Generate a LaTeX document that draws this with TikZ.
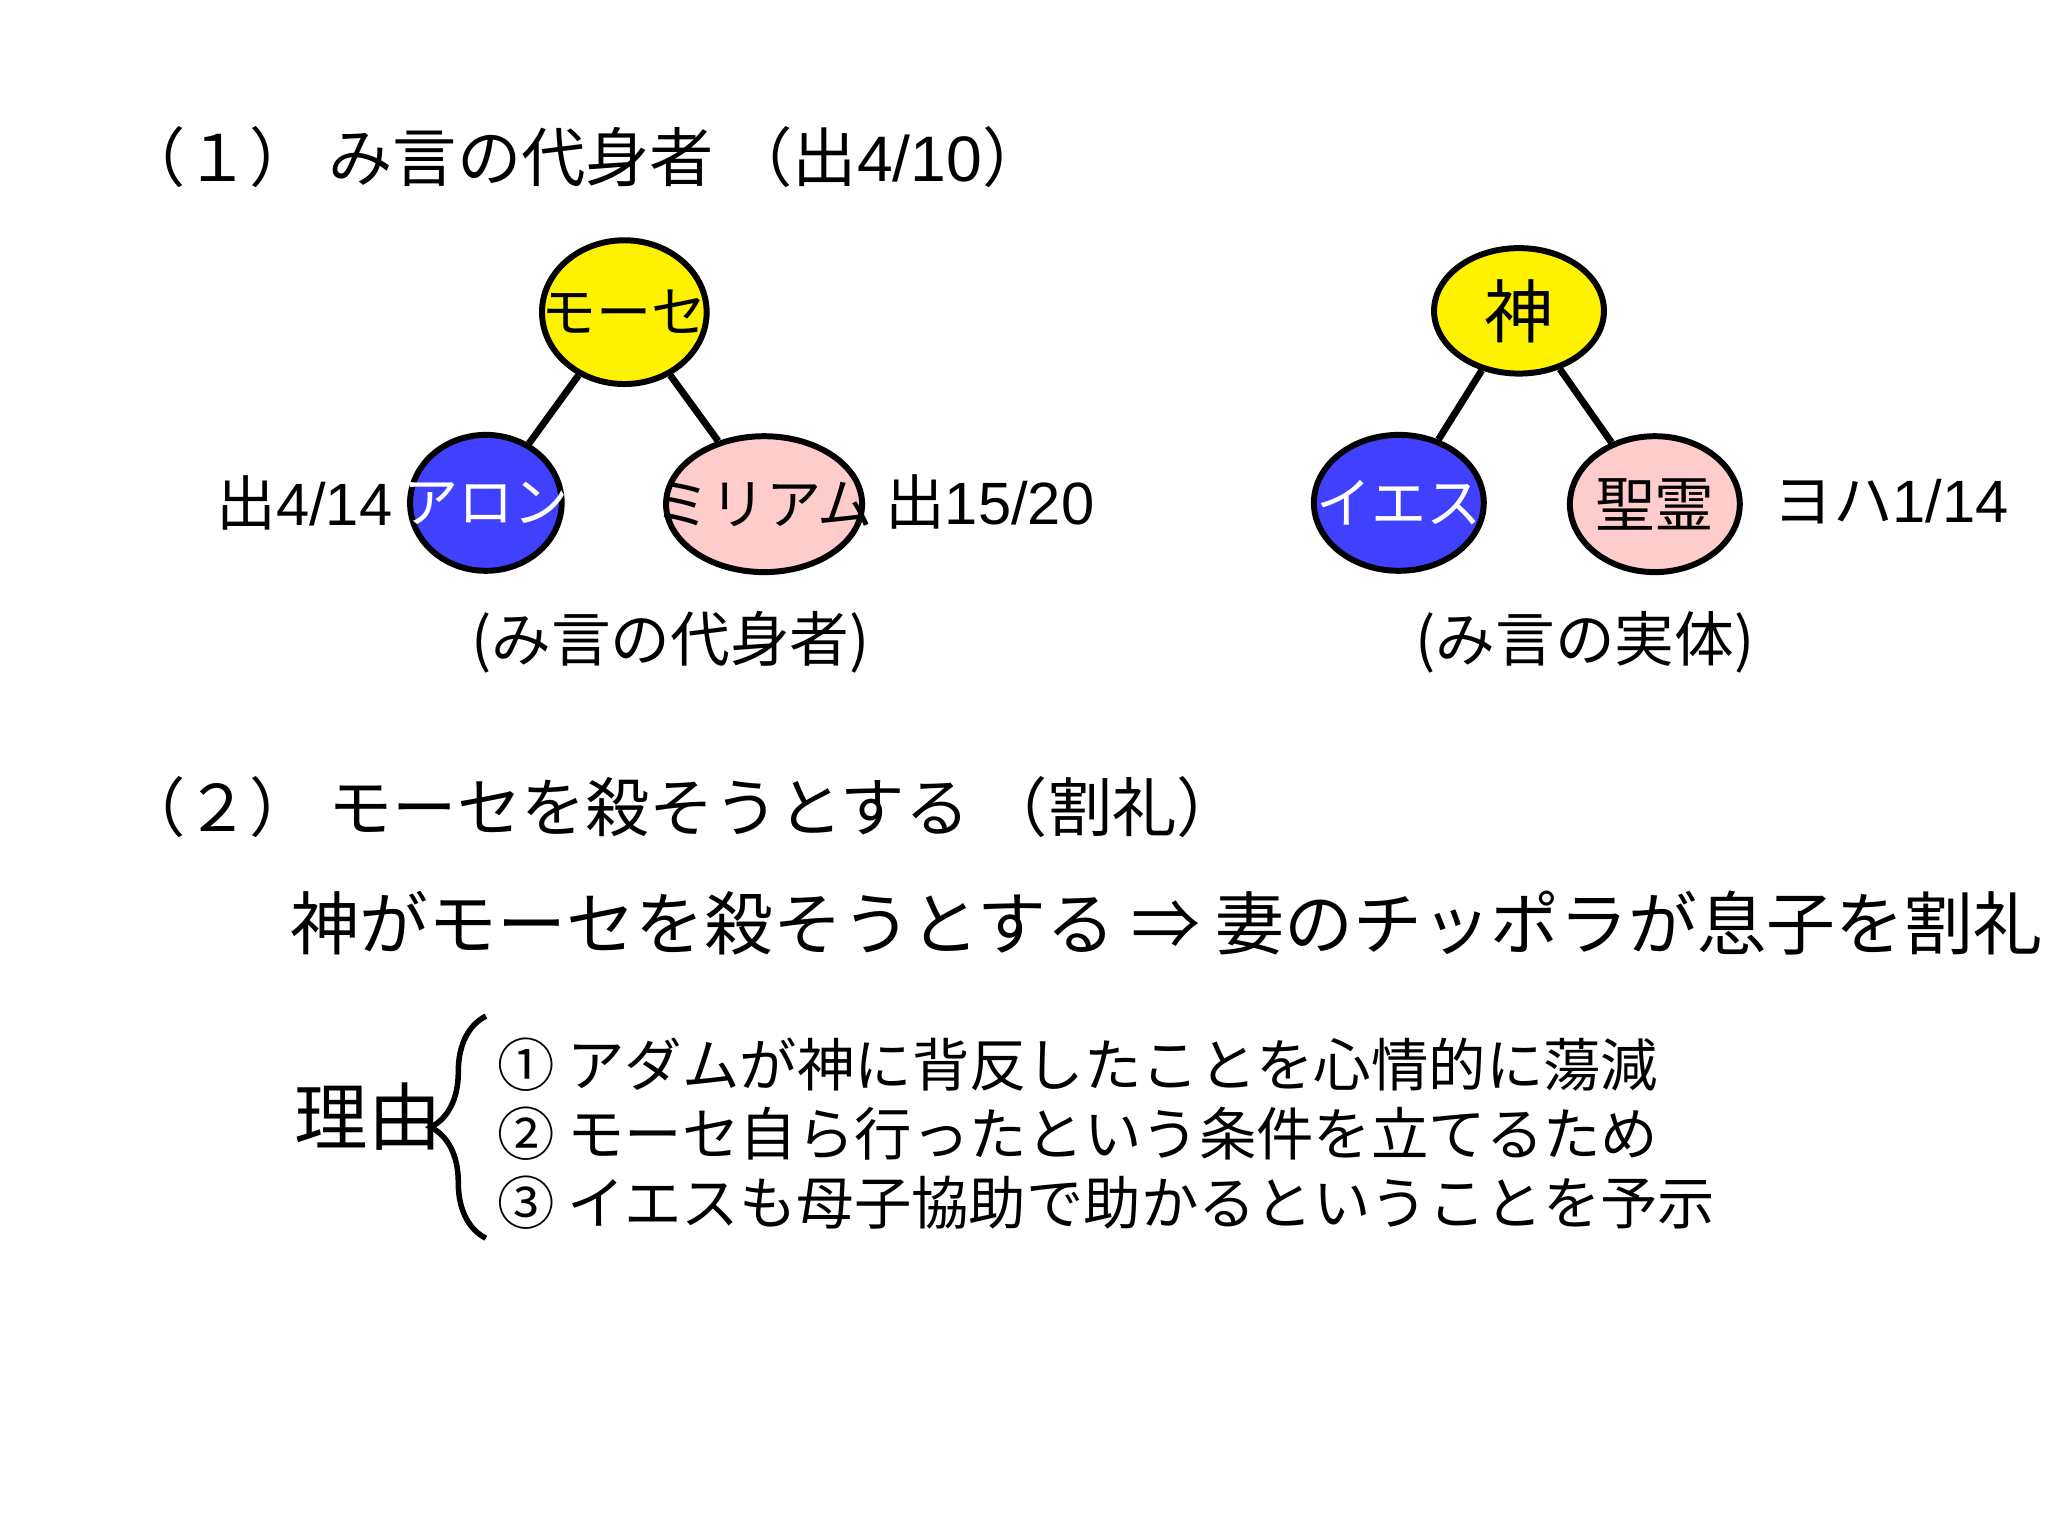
\documentclass[tikz,border=0pt]{standalone}
\usepackage{fontspec}
\setmainfont{Liberation Sans}
\newfontfamily\jp{Noto Sans CJK JP}
\usetikzlibrary{decorations.pathreplacing,shapes.geometric}
\begin{document}
\begin{tikzpicture}[x=0.01cm,y=-0.01cm,
  ov/.style={draw,line width=1.3pt,ellipse,inner sep=0pt},
  con/.style={line width=1.5pt},
  lab/.style={font=\fontsize{12pt}{14pt}\selectfont\jp},
  t/.style={anchor=west,inner sep=0pt}]
\useasboundingbox[fill=white] (0,0) rectangle (1568,1176);
\node[ov,fill=yellow,minimum width=1.26cm,minimum height=1.1cm] (m) at (478,239) {};
\node[ov,fill=blue!75!white,minimum width=1.16cm,minimum height=1.04cm] (a) at (372,385) {};
\node[ov,fill=pink!80!white,minimum width=1.5cm,minimum height=1.04cm] (r) at (585,386) {};
\node[ov,fill=yellow,minimum width=1.3cm,minimum height=0.96cm] (g) at (1163,238) {};
\node[ov,fill=blue!75!white,minimum width=1.3cm,minimum height=1.04cm] (j) at (1071,385) {};
\node[ov,fill=pink!80!white,minimum width=1.3cm,minimum height=1.04cm] (s) at (1267,386) {};
\draw[con] (m) -- (a); \draw[con] (m) -- (r);
\draw[con] (g) -- (j); \draw[con] (g) -- (s);
\node[lab] at (m) {モーセ};
\node[lab,white] at (a) {アロン};
\node[lab] at (r) {ミリアム};
\node[font=\fontsize{15pt}{17pt}\selectfont\jp] at (g) {神};
\node[lab,white] at (j) {イエス};
\node[font=\fontsize{13pt}{15pt}\selectfont\jp] at (s) {聖霊};
\node[t,font=\fontsize{13pt}{15pt}\selectfont] (l1) at (165,385) {{\jp 出}4/14};
\node[t,font=\fontsize{13pt}{15pt}\selectfont] (l2) at (677,384) {{\jp 出}15/20};
\node[t,font=\fontsize{13pt}{15pt}\selectfont] (l3) at (1357,384) {{\jp ヨハ}1/14};
\node[t,font=\fontsize{13pt}{15pt}\selectfont\jp] (c1) at (360,492) {(み言の代身者)};
\node[t,font=\fontsize{13pt}{15pt}\selectfont\jp] (c2) at (1083,492) {(み言の実体)};
\node[t,font=\fontsize{14pt}{16pt}\selectfont] (h1) at (92,120) {{\jp （１）\ み言の代身者 （出}4/10{\jp ）}};
\node[t,font=\fontsize{14pt}{16pt}\selectfont\jp] (h2) at (92,618) {（２）\ モーセを殺そうとする （割礼）};
\node[t,font=\fontsize{15pt}{17pt}\selectfont\jp] (b) at (222,707) {神がモーセを殺そうとする ⇒ 妻のチッポラが息子を割礼};
\node[t,font=\fontsize{16pt}{18pt}\selectfont\jp] (w) at (225,855) {理由};
\draw[line width=1.2pt,decoration={brace,amplitude=12pt},decorate] (372,948) -- (372,778);
\node[t,font=\fontsize{12.5pt}{14pt}\selectfont\jp] at (380,815) {① アダムが神に背反したことを心情的に蕩減};
\node[t,font=\fontsize{12.5pt}{14pt}\selectfont\jp] at (380,868) {② モーセ自ら行ったという条件を立てるため};
\node[t,font=\fontsize{12.5pt}{14pt}\selectfont\jp] at (380,921) {③ イエスも母子協助で助かるということを予示};
\end{tikzpicture}
\end{document}
